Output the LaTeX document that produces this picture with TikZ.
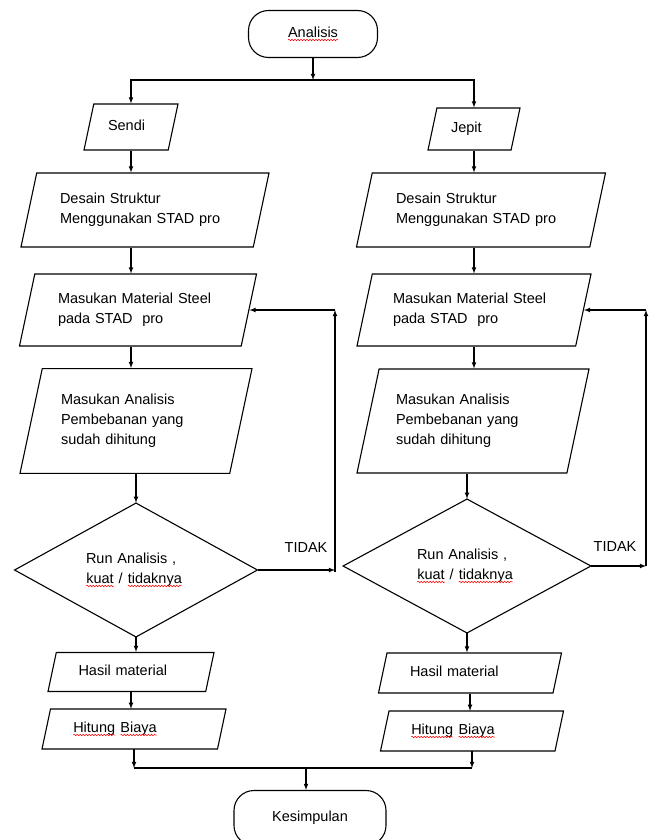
\documentclass[tikz,border=0pt]{standalone}
\usepackage{fontspec}
\setmainfont{Liberation Sans}
\usepackage{xcolor}
\usetikzlibrary{shapes.geometric,decorations.pathmorphing}
\tikzset{
  term/.style={draw, rounded corners=20pt, inner sep=0pt},
  io/.style={draw, trapezium, trapezium left angle=78, trapezium right angle=102,
    trapezium stretches body, inner xsep=0pt, align=left},
  one/.style={text height=11pt, text depth=4pt},
  cek/.style={draw, diamond, inner sep=0pt, align=left},
  arr/.style={->},
  word/.style={shape=rectangle, draw=none, fill=none, sharp corners, inner sep=0pt,
    outer sep=0pt, minimum width=0pt, minimum height=0pt, text width={}, text height={}, text depth={}},
  squig/.style={red, line width=0.5pt, sharp corners, decorate,
    decoration={snake, amplitude=0.8pt, segment length=3pt}}
}
\def\sq#1{\tikz[baseline=(w.base)]{\node [word] (w) {#1};
  \draw [squig] ([yshift=-2.5pt]w.base west) -- ([yshift=-2.5pt]w.base east);}}

\begin{document}
\begin{tikzpicture}[x=1pt, y=-1pt, line width=1.1pt, >=latex, font=\fontsize{14.5}{20}\selectfont]
\useasboundingbox (0,0) rectangle (654,840);
\node [term, minimum width=129, minimum height=47] (analisis) at (313,34) {\sq{Analisis}};
\node [io, one, minimum width=94, inner ysep=15.5, text width=46] (sendi) at (131,127) {Sendi};
\node [io, one, minimum width=92, inner ysep=13.5, text width=46] (jepit) at (474,129) {Jepit};
\node [io, minimum width=248, inner ysep=20.2, text width=170] (desain1) at (145,210) {Desain Struktur\\Menggunakan STAD pro};
\node [io, minimum width=249, inner ysep=20.2, text width=170] (desain2) at (481,210) {Desain Struktur\\Menggunakan STAD pro};
\node [io, minimum width=237, inner ysep=19.2, text width=160] (mat1) at (138,310) {Masukan Material Steel\\pada STAD\ \ pro};
\node [io, minimum width=234, inner ysep=19.2, text width=162] (mat2) at (474,310) {Masukan Material Steel\\pada STAD\ \ pro};
\node [io, minimum width=232, inner ysep=25.6, text width=150] (anl1) at (136,421) {Masukan Analisis\\Pembebanan yang\\sudah dihitung};
\node [io, minimum width=232, inner ysep=25.2, text width=154] (anl2) at (473,421) {Masukan Analisis\\Pembebanan yang\\sudah dihitung};
\node [cek, minimum width=243, minimum height=126, text width=100] (run1) at (136,570) {Run Analisis ,\\\sq{kuat} / \sq{tidaknya}};
\node [cek, minimum width=248, minimum height=132, text width=100] (run2) at (467,566) {Run Analisis ,\\\sq{kuat} / \sq{tidaknya}};
\node [io, one, minimum width=166, inner ysep=12, text width=105] (has1) at (131,672) {Hasil material};
\node [io, one, minimum width=183, inner ysep=12.5, text width=120] (has2) at (470,673) {Hasil material};
\node [io, one, minimum width=184, inner ysep=12.5, text width=122] (bia1) at (134,729) {\sq{Hitung} \sq{Biaya}};
\node [io, one, minimum width=183, inner ysep=12.5, text width=122] (bia2) at (472,731) {\sq{Hitung} \sq{Biaya}};
\node [term, minimum width=152, minimum height=55] (kesimpulan) at (310,818) {Kesimpulan};
\node (tidak1) at (306,548) {TIDAK};
\node (tidak2) at (615,547) {TIDAK};
\coordinate (split) at (313,80);
\coordinate (join) at (306,768);
\coordinate (up1) at (335,572);
\coordinate (back1) at (335,310);
\coordinate (up2) at (646,566);
\coordinate (back2) at (646,310);
\draw [arr] (analisis) -- (split);
\draw [arr] (split) -| (sendi);
\draw [arr] (split) -| (jepit);
\draw [arr] (sendi.south) -- (sendi.south |- desain1.north);
\draw [arr] (jepit.south) -- (jepit.south |- desain2.north);
\draw [arr] (sendi.south |- desain1.south) -- (sendi.south |- mat1.north);
\draw [arr] (jepit.south |- desain2.south) -- (jepit.south |- mat2.north);
\draw [arr] (sendi.south |- mat1.south) -- (sendi.south |- anl1.north);
\draw [arr] (jepit.south |- mat2.south) -- (jepit.south |- anl2.north);
\draw [arr] (run1.north |- anl1.south) -- (run1.north);
\draw [arr] (run2.north |- anl2.south) -- (run2.north);
\draw [arr] (run1.south) -- (run1.south |- has1.north);
\draw [arr] (run2.south) -- (run2.south |- has2.north);
\draw [arr] (has1.south) -- (has1.south |- bia1.north);
\draw [arr] (has2.south) -- (has2.south |- bia2.north);
\draw [arr] (run1.east) -- (run1.east -| up1);
\draw [arr] (up1) -- (back1);
\draw [arr] (back1) -- (mat1);
\draw [arr] (run2.east) -- (run2.east -| up2);
\draw [arr] (up2) -- (back2);
\draw [arr] (back2) -- (mat2);
\draw [arr] (bia1.south) -- (bia1.south |- join);
\draw [arr] (bia2.south) -- (bia2.south |- join);
\draw (bia1.south |- join) -- (bia2.south |- join);
\draw [arr] (join) -- (join |- kesimpulan.north);
\end{tikzpicture}
\end{document}
